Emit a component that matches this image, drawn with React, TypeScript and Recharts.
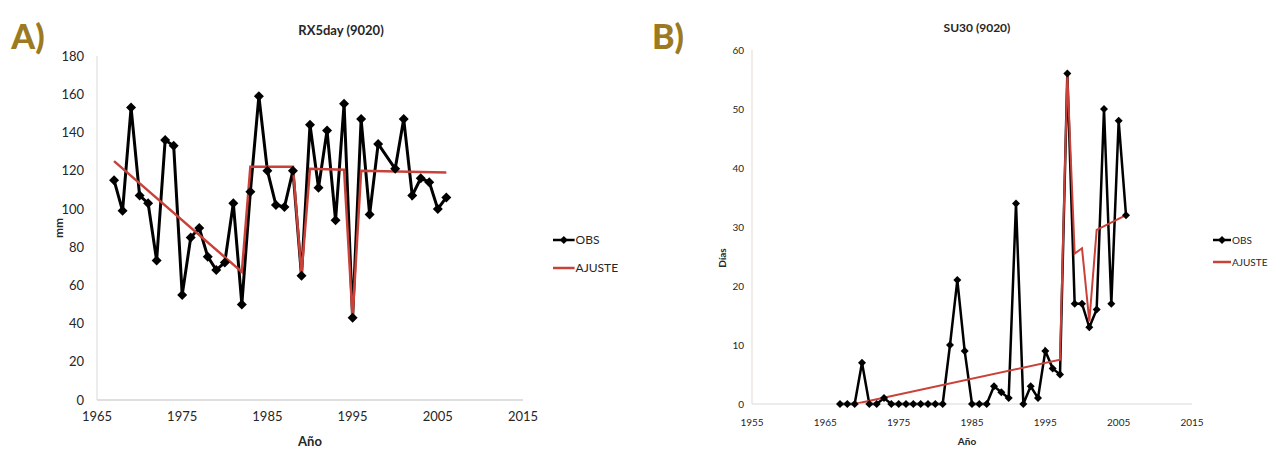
import { LineChart, Line, XAxis, YAxis } from 'recharts';

const FONT = "Lato, 'Liberation Sans', sans-serif";
const RED = '#c9423a';
const GOLD = '#9b7a22';

// A) RX5day (9020)
const rxYears = [
  1967, 1968, 1969, 1970, 1971, 1972, 1973, 1974, 1975, 1976, 1977, 1978, 1979,
  1980, 1981, 1982, 1983, 1984, 1985, 1986, 1987, 1988, 1989, 1990, 1991, 1992,
  1993, 1994, 1995, 1996, 1997, 1998, 2000, 2001, 2002, 2003, 2004, 2005, 2006,
];
const rxObs = [
  115, 99, 153, 107, 103, 73, 136, 133, 55, 85, 90, 75, 68,
  72, 103, 50, 109, 159, 120, 102, 101, 120, 65, 144, 111, 141,
  94, 155, 43, 147, 97, 134, 121, 147, 107, 116, 114, 100, 106,
];
const rxFitYears = [1967, 1982, 1983, 1988, 1989, 1990, 1994, 1995, 1996, 2006];
const rxFit = [125, 67, 122, 122, 66, 121, 120.5, 43, 120, 119];

// B) SU30 (9020)
const suYears = [
  1967, 1968, 1969, 1970, 1971, 1972, 1973, 1974, 1975, 1976, 1977, 1978, 1979,
  1980, 1981, 1982, 1983, 1984, 1985, 1986, 1987, 1988, 1989, 1990, 1991, 1992,
  1993, 1994, 1995, 1996, 1997, 1998, 1999, 2000, 2001, 2002, 2003, 2004, 2005, 2006,
];
const suObs = [
  0, 0, 0, 7, 0, 0, 1, 0, 0, 0, 0, 0, 0,
  0, 0, 10, 21, 9, 0, 0, 0, 3, 2, 1, 34, 0,
  3, 1, 9, 6, 5, 56, 17, 17, 13, 16, 50, 17, 48, 32,
];
const suFitYears = [1969, 1997, 1998, 1999, 2000, 2001, 2002, 2006];
const suFit = [0, 7.5, 56, 25.5, 26.4, 14, 29.5, 32];

const rxTicksX = [1965, 1975, 1985, 1995, 2005, 2015];
const rxTicksY = [0, 20, 40, 60, 80, 100, 120, 140, 160, 180];
const suTicksX = [1955, 1965, 1975, 1985, 1995, 2005, 2015];
const suTicksY = [0, 10, 20, 30, 40, 50, 60];

const rxObsData = rxYears.map((year, i) => ({ year, value: rxObs[i] }));
const rxFitData = rxFitYears.map((year, i) => ({ year, value: rxFit[i] }));
const suObsData = suYears.map((year, i) => ({ year, value: suObs[i] }));
const suFitData = suFitYears.map((year, i) => ({ year, value: suFit[i] }));

function makeDiamond(r: number) {
  return (props: any) => {
    const { cx, cy, index } = props;
    if (cx == null || cy == null) return <g key={`d-${index}`} />;
    return (
      <polygon
        key={`d-${index}`}
        points={`${cx},${cy - r} ${cx + r},${cy} ${cx},${cy + r} ${cx - r},${cy}`}
        fill="#000"
      />
    );
  };
}

function LegendBox({ left, top, size, gap }: { left: number; top: number; size: number; gap: number }) {
  const row = (label: string, color: string, marker: boolean, y: number) => (
    <div style={{ position: 'absolute', left, top: y, display: 'flex', alignItems: 'center' }}>
      <svg width={size * 1.8} height={12} style={{ display: 'block' }}>
        <line x1={0} y1={6} x2={size * 1.8} y2={6} stroke={color} strokeWidth={2.5} />
        {marker && (
          <polygon
            points={`${size * 0.9},2 ${size * 0.9 + 4},6 ${size * 0.9},10 ${size * 0.9 - 4},6`}
            fill="#000"
          />
        )}
      </svg>
      <span style={{ fontFamily: FONT, fontSize: size, color: '#262626', marginLeft: 1, lineHeight: '12px' }}>
        {label}
      </span>
    </div>
  );
  return (
    <>
      {row('OBS', '#000', true, top)}
      {row('AJUSTE', RED, false, top + gap)}
    </>
  );
}

const text = (t: string, x: number, y: number, size: number, extra: React.CSSProperties = {}) => (
  <div
    style={{
      position: 'absolute',
      left: x,
      top: y,
      transform: 'translate(-50%, -50%)',
      fontFamily: FONT,
      fontSize: size,
      fontWeight: 'bold',
      color: '#262626',
      whiteSpace: 'nowrap',
      ...extra,
    }}
  >
    {t}
  </div>
);

export default function App() {
  return (
    <div style={{ position: 'absolute', left: 0, top: 0, width: 1273, height: 451, background: '#fff' }}>
      {/* Panel A */}
      <div style={{ position: 'absolute', left: 0, top: 0 }}>
        <LineChart width={640} height={451} margin={{ top: 56, right: 117, left: 57, bottom: 21 }}>
          <XAxis
            type="number"
            dataKey="year"
            domain={[1965, 2015]}
            ticks={rxTicksX}
            allowDataOverflow
            tickLine={false}
            tickSize={0}
            tickMargin={12}
            height={30}
            stroke="#bfbfbf"
            tick={{ fontSize: 13, fill: '#262626', fontFamily: FONT }}
          />
          <YAxis
            type="number"
            domain={[0, 180]}
            ticks={rxTicksY}
            tickLine={false}
            tickSize={0}
            tickMargin={13}
            width={40}
            stroke="#d9d9d9"
            tick={{ fontSize: 13, fill: '#262626', fontFamily: FONT }}
          />
          <Line
            data={rxObsData}
            dataKey="value"
            stroke="#000"
            strokeWidth={3}
            dot={makeDiamond(5)}
            activeDot={false}
            isAnimationActive={false}
          />
          <Line
            data={rxFitData}
            dataKey="value"
            stroke={RED}
            strokeWidth={2.5}
            dot={false}
            activeDot={false}
            isAnimationActive={false}
          />
        </LineChart>
      </div>
      {text('RX5day (9020)', 341, 30, 13)}
      {text('mm', 58, 228, 12, { transform: 'translate(-50%, -50%) rotate(-90deg)' })}
      {text('Año', 310, 441, 13)}
      {text('A)', 28, 35, 34, { color: GOLD, fontWeight: 900 })}
      <LegendBox left={553} top={234} size={12} gap={28} />

      {/* Panel B */}
      <div style={{ position: 'absolute', left: 660, top: 0 }}>
        <LineChart width={613} height={451} margin={{ top: 50, right: 81, left: 52, bottom: 17 }}>
          <XAxis
            type="number"
            dataKey="year"
            domain={[1955, 2015]}
            ticks={suTicksX}
            allowDataOverflow
            tickLine={false}
            tickSize={0}
            tickMargin={15}
            height={30}
            stroke="#d9d9d9"
            tick={{ fontSize: 10, fill: '#262626', fontFamily: FONT }}
          />
          <YAxis
            type="number"
            domain={[0, 60]}
            ticks={suTicksY}
            tickLine={false}
            tickSize={0}
            tickMargin={8}
            width={40}
            stroke="#e3d9d0"
            tick={{ fontSize: 10, fill: '#262626', fontFamily: FONT }}
          />
          <Line
            data={suObsData}
            dataKey="value"
            stroke="#000"
            strokeWidth={2.5}
            dot={makeDiamond(4)}
            activeDot={false}
            isAnimationActive={false}
          />
          <Line
            data={suFitData}
            dataKey="value"
            stroke={RED}
            strokeWidth={2}
            dot={false}
            activeDot={false}
            isAnimationActive={false}
          />
        </LineChart>
      </div>
      {text('SU30 (9020)', 977, 27, 12)}
      {text('Días', 722, 258, 10, { transform: 'translate(-50%, -50%) rotate(-90deg)' })}
      {text('Año', 967, 441, 10)}
      {text('B)', 668, 35, 34, { color: GOLD, fontWeight: 900 })}
      <LegendBox left={1213} top={234} size={10} gap={22} />
    </div>
  );
}
